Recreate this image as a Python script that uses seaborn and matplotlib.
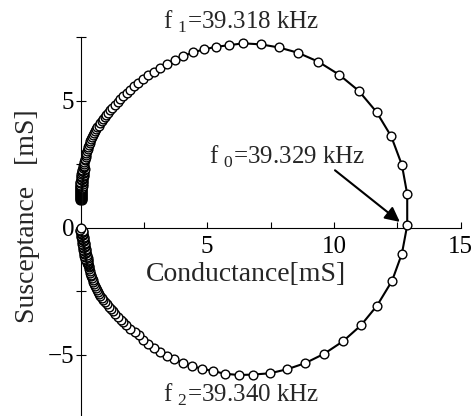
import matplotlib
matplotlib.use('Agg')
import matplotlib.pyplot as plt
import seaborn as sns
from matplotlib.ticker import MultipleLocator

sns.set_style('ticks')
plt.rcParams['font.family'] = ['Liberation Serif', 'DejaVu Serif']
plt.rcParams['mathtext.fontset'] = 'custom'
plt.rcParams['mathtext.rm'] = 'Liberation Serif'

# admittance locus [mS], sweep order (clockwise)
# upper left part (dense, low frequency side; scattered points overlap)
g_upper = [-0.03, 0.07, -0.03, 0.07, -0.03, 0.07, -0.03, 0.07, -0.03, 0.07,
           -0.03, 0.07, -0.03, 0.07, -0.03, 0.07, -0.03, 0.07, -0.03, 0.07,
           -0.03, 0.07, -0.03, 0.07, -0.03, 0.07, -0.03,
           -0.03, 0.08, -0.02, 0.08, -0.01, 0.09, -0.01, 0.09, 0.00, 0.10,
           0.01, 0.11, 0.01, 0.12, 0.02, 0.12, 0.03, 0.13, 0.04, 0.14,
           0.05, 0.15, 0.06, 0.16, 0.09, 0.15, 0.11, 0.14,
           0.14, 0.15, 0.17, 0.18, 0.20, 0.22,
           0.23, 0.25, 0.28, 0.30, 0.33, 0.36, 0.39, 0.42, 0.46, 0.50,
           0.54, 0.58,
           0.63, 0.67, 0.72, 0.77, 0.83, 0.88, 0.95, 1.02, 1.09, 1.17,
           1.26, 1.36, 1.46, 1.57, 1.69, 1.82, 1.96, 2.11, 2.28, 2.47,
           2.67, 2.89, 3.13, 3.41, 3.71, 4.05, 4.43, 4.86, 5.33, 5.86]
b_upper = [1.08, 1.10, 1.12, 1.14, 1.16, 1.18, 1.20, 1.22, 1.24, 1.26,
           1.28, 1.30, 1.32, 1.34, 1.36, 1.38, 1.40, 1.42, 1.44, 1.46,
           1.48, 1.50, 1.52, 1.54, 1.56, 1.58, 1.60,
           1.63, 1.66, 1.69, 1.72, 1.75, 1.78, 1.81, 1.84, 1.87, 1.90,
           1.93, 1.96, 1.99, 2.02, 2.05, 2.08, 2.11, 2.14, 2.17, 2.20,
           2.23, 2.26, 2.29, 2.32, 2.35, 2.38, 2.41, 2.44,
           2.51, 2.58, 2.65, 2.72, 2.79, 2.86,
           2.93, 3.00, 3.08, 3.16, 3.24, 3.32, 3.40, 3.48, 3.56, 3.64,
           3.72, 3.80,
           3.88, 3.95, 4.02, 4.10, 4.18, 4.26, 4.34, 4.43, 4.53, 4.62,
           4.72, 4.83, 4.94, 5.05, 5.17, 5.30, 5.43, 5.56, 5.70, 5.84,
           5.99, 6.14, 6.30, 6.45, 6.60, 6.75, 6.89, 7.01, 7.11, 7.18]

# around resonance (f1 -> f0 -> f2)
g_mid = [6.42, 7.11, 7.82, 8.58, 9.38, 10.20, 10.97, 11.68, 12.26, 12.68,
         12.89, 12.89, 12.68, 12.29, 11.70, 11.06, 10.36, 9.62, 8.87, 8.16,
         7.48, 6.82, 6.26]
b_mid = [7.25, 7.21, 7.09, 6.88, 6.53, 6.02, 5.39, 4.55, 3.59, 2.47,
         1.32, 0.10, -1.02, -2.09, -3.06, -3.84, -4.46, -4.95, -5.32, -5.56,
         -5.72, -5.77, -5.79]

# lower left part (dense, high frequency side; scattered points overlap)
g_lower = [5.71, 5.24, 4.79, 4.40, 4.03, 3.69, 3.40, 3.14, 2.90, 2.67,
           2.48, 2.31, 2.15, 1.95, 1.80, 1.68, 1.58, 1.46, 1.36, 1.27,
           1.19, 1.11, 1.03, 0.96, 0.90, 0.84, 0.78, 0.73, 0.68, 0.64,
           0.60, 0.57, 0.54, 0.51, 0.48, 0.45, 0.43, 0.41, 0.39, 0.37,
           0.35, 0.33,
           0.33, 0.28, 0.31, 0.26, 0.30, 0.25, 0.28, 0.23, 0.29, 0.18,
           0.28, 0.17, 0.26, 0.15, 0.24, 0.14, 0.23, 0.13, 0.22, 0.12,
           0.21, 0.11, 0.20, 0.10, 0.19, 0.09, 0.18, 0.08, 0.17, 0.07,
           0.16, 0.06, 0.15, 0.05, 0.14, 0.04, 0.13, 0.03, 0.12, 0.02,
           0.11, 0.01, 0.10, 0.00, 0.09, -0.01, 0.08, -0.02,
           0.00]
b_lower = [-5.74, -5.64, -5.54, -5.44, -5.31, -5.17, -5.03, -4.87, -4.72, -4.56,
           -4.40, -4.23, -4.10, -3.97, -3.84, -3.72, -3.61, -3.50, -3.39, -3.29,
           -3.19, -3.10, -3.00, -2.92, -2.83, -2.76, -2.68, -2.60, -2.53, -2.46,
           -2.38, -2.30, -2.22, -2.14, -2.06, -1.98, -1.91, -1.84, -1.77, -1.70,
           -1.63, -1.56,
           -1.49, -1.46, -1.43, -1.40, -1.37, -1.34, -1.31, -1.28, -1.25, -1.22,
           -1.19, -1.16, -1.13, -1.10, -1.07, -1.04, -1.01, -0.98, -0.95, -0.92,
           -0.89, -0.86, -0.83, -0.80, -0.77, -0.74, -0.71, -0.68, -0.65, -0.62,
           -0.59, -0.56, -0.53, -0.50, -0.47, -0.44, -0.41, -0.38, -0.35, -0.32,
           -0.29, -0.26, -0.23, -0.20, -0.17, -0.14, -0.11, -0.08,
           0.00]

G = g_upper + g_mid + g_lower
B = b_upper + b_mid + b_lower

fig = plt.figure(figsize=(4.73, 4.16), dpi=100)
ax = fig.add_axes([0.1702, 0.0, 0.8038, 0.9111])

sns.lineplot(x=G, y=B, sort=False, estimator=None, ax=ax, color='k', lw=1.5,
             marker='o', ms=6.3, markerfacecolor='white', markeredgecolor='k',
             mew=1.0, clip_on=False, zorder=3)

ax.set_xlim(0, 15)
ax.set_ylim(-7.4, 7.5)
ax.spines['top'].set_visible(False)
ax.spines['right'].set_visible(False)
ax.spines['bottom'].set_position(('data', 0))
for s in ['left', 'bottom']:
    ax.spines[s].set_linewidth(0.8)
    ax.spines[s].set_color('k')

ax.xaxis.set_major_locator(MultipleLocator(5))
ax.xaxis.set_minor_locator(MultipleLocator(2.5))
ax.yaxis.set_major_locator(MultipleLocator(5))
ax.yaxis.set_minor_locator(MultipleLocator(2.5))
ax.set_xticks([5, 10, 15])
ax.set_xticklabels(['5', '10', '15'])
ax.tick_params(axis='x', which='both', direction='in', length=4, width=0.8,
               labelsize=18, pad=6, colors='k')
ax.tick_params(axis='y', which='both', direction='inout', length=7, width=0.8,
               labelsize=18, pad=1, colors='k')

fig.text(27 / 473, 1 - 216 / 416, 'Susceptance   [mS]', fontsize=20,
         rotation=90, ha='center', va='center')
ax.text(6.53, -1.83, 'Conductance[mS]', fontsize=20, ha='center', va='center')

ax.text(6.32, 8.09, r'f $_{1}$=39.318 kHz', fontsize=18, ha='center', va='center')
ax.text(8.17, 2.79, r'f $_{0}$=39.329 kHz', fontsize=18, ha='center', va='center')
ax.text(6.32, -6.59, r'f $_{2}$=39.340 kHz', fontsize=18, ha='center', va='center')
ax.annotate('', xy=(12.6, 0.23), xytext=(10.04, 2.26),
            arrowprops=dict(arrowstyle='-|>', color='k', lw=1.5,
                            mutation_scale=22, shrinkA=0, shrinkB=0))

fig.savefig('out.png', dpi=100)
